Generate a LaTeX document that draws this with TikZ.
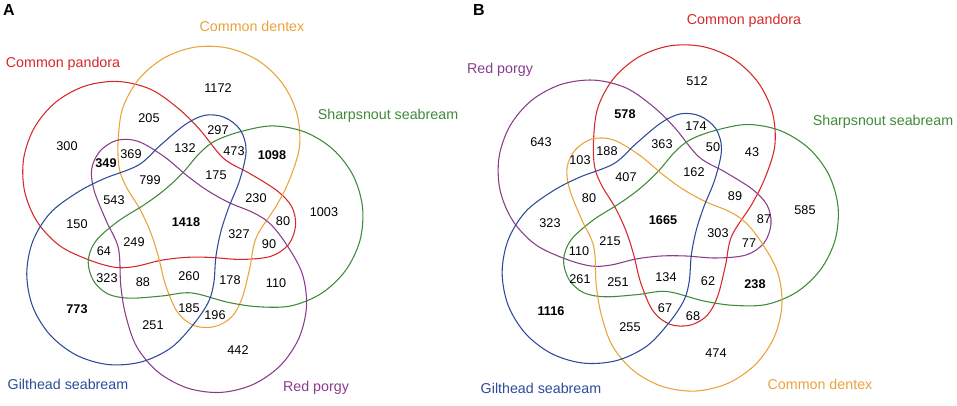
\documentclass[tikz,border=0pt]{standalone}
\usepackage{fontspec}
\setmainfont{Liberation Sans}
\definecolor{vred}{RGB}{214,40,42}
\definecolor{vorange}{RGB}{234,163,58}
\definecolor{vgreen}{RGB}{62,138,56}
\definecolor{vblue}{RGB}{46,75,154}
\definecolor{vpurple}{RGB}{138,60,140}
\tikzset{
  cnt/.style={font=\fontsize{9.5}{11}\selectfont, inner sep=0pt},
  bcnt/.style={font=\fontsize{9.5}{11}\selectfont\bfseries, inner sep=0pt},
  setname/.style={font=\fontsize{10.7}{12}\selectfont, inner sep=0pt},
  panel/.style={font=\fontsize{12}{14}\selectfont\bfseries, inner sep=0pt},
  % one set of the 5-set diagram, upper-left position, offsets from the centre
  lobe/.pic={
    \draw[line width=0.8pt] plot[smooth cycle, tension=0.55] coordinates {
      % round part
      (-95.6,39.9) (-125.5,25.6) (-148.3,1.6) (-161.0,-29.1) (-161.9,-62.2)
      (-150.8,-93.5) (-129.3,-118.7) (-100.1,-134.5) (-67.2,-138.9)
      (-35.0,-131.1) (-7.7,-112.3)
      % arm
      (14,-91) (38,-62) (64,-47) (91,-30) (106,-14) (110,5) (103,24)
      (85,36) (55,39) (25,37) (0,37) (-25,40) (-50,46) (-70,47)};
  }
}

\begin{document}
\begin{tikzpicture}[x=0.75pt,y=-0.75pt]
\useasboundingbox (0,0) rectangle (957,406);

% A
\begin{scope}[shift={(185.6,220.4)}]
  \foreach \k/\c in {0/vred,1/vorange,2/vgreen,3/vpurple,4/vblue}
    \pic[color=\c, rotate=-72*\k] {lobe};
\end{scope}
\node[panel] (panelA) at (9,10) {A};
\node[setname, text=vorange] (aDentex) at (252,26) {Common dentex};
\node[setname, text=vred] (aPandora) at (63,64) {Common pandora};
\node[setname, text=vgreen] (aSharp) at (388,116) {Sharpsnout seabream};
\node[setname, text=vblue] (aGilt) at (68,384) {Gilthead seabream};
\node[setname, text=vpurple] (aPorgy) at (316,388) {Red porgy};
\foreach \x/\y/\t in {218/88/1172, 149/118/205, 67/146/300, 218/130/297,
    185/148/132, 234/151/473, 131/154/369, 150/180/799, 216/175/175,
    256/198/230, 114/200/543, 324/212/1003, 77/224/150, 283/221/80,
    239/234/327, 134/242/249, 104/251/64, 269/244/90, 107/278/323,
    143/282/88, 189/276/260, 230/280/178, 276/283/110, 189/308/185,
    215/315/196, 153/325/251, 238/350/442}
  \node[cnt] (a\t) at (\x,\y) {\t};
\foreach \x/\y/\t in {106/163/349, 272/155/1098, 186/222/1418, 77/309/773}
  \node[bcnt] (a\t) at (\x,\y) {\t};

% B
\begin{scope}[shift={(661,219)}, scale=1.036]
  \foreach \k/\c in {0/vpurple,1/vred,2/vgreen,3/vorange,4/vblue}
    \pic[color=\c, rotate=-72*\k] {lobe};
\end{scope}
\node[panel] (panelB) at (479,10) {B};
\node[setname, text=vred] (bPandora) at (744,21) {Common pandora};
\node[setname, text=vpurple] (bPorgy) at (500,70) {Red porgy};
\node[setname, text=vgreen] (bSharp) at (883,122) {Sharpsnout seabream};
\node[setname, text=vblue] (bGilt) at (541,388) {Gilthead seabream};
\node[setname, text=vorange] (bDentex) at (820,384) {Common dentex};
\foreach \x/\y/\t in {697/81/512, 541/142/643, 696/126/174, 662/144/363,
    713/147/50, 752/152/43, 607/151/188, 580/160/103, 626/177/407,
    694/172/162, 735/196/89, 589/198/80, 805/210/585, 550/223/323,
    764/219/87, 718/233/303, 610/241/215, 579/251/110, 749/243/77,
    580/279/261, 618/282/251, 666/277/134, 708/281/62, 665/308/67,
    693/316/68, 630/327/255, 716/353/474}
  \node[cnt] (b\t) at (\x,\y) {\t};
\foreach \x/\y/\t in {625/114/578, 663/220/1665, 755/284/238, 551/311/1116}
  \node[bcnt] (b\t) at (\x,\y) {\t};
\end{tikzpicture}
\end{document}
